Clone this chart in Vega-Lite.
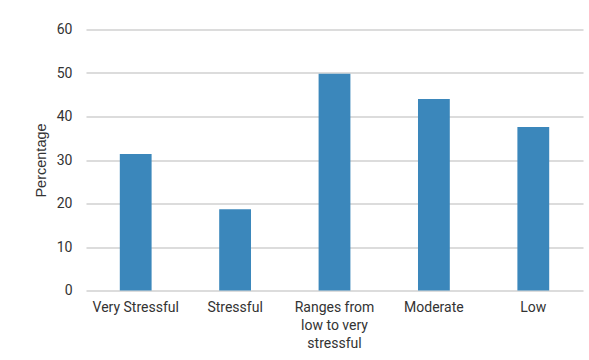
{
  "$schema": "https://vega.github.io/schema/vega-lite/v6.json",
  "autosize": {"type": "none"},
  "width": 497,
  "height": 261,
  "padding": {"left": 86, "top": 29.5, "right": 6, "bottom": 69.5},
  "background": "white",
  "config": {
    "view": {"stroke": null},
    "font": "Roboto",
    "axis": {"labelFont": "Roboto", "titleFont": "Liberation Sans", "labelColor": "#333333", "titleColor": "#333333"}
  },
  "data": {
    "values": [
      {"category": "Very Stressful", "value": 31.4},
      {"category": "Stressful", "value": 18.7},
      {"category": "Ranges from low to very stressful", "value": 49.8},
      {"category": "Moderate", "value": 44.0},
      {"category": "Low", "value": 37.6}
    ]
  },
  "mark": {"type": "bar", "color": "#3B87BB"},
  "encoding": {
    "x": {
      "field": "category",
      "type": "nominal",
      "sort": null,
      "scale": {"paddingInner": 0.68, "paddingOuter": 0.34},
      "axis": {
        "title": null,
        "labelAngle": 0,
        "domain": false,
        "ticks": false,
        "labelPadding": 10,
        "labelFontSize": 14,
        "labelLineHeight": 18,
        "labelLimit": 200,
        "labelExpr": "datum.value == 'Ranges from low to very stressful' ? ['Ranges from', 'low to very', 'stressful'] : datum.value"
      }
    },
    "y": {
      "field": "value",
      "type": "quantitative",
      "scale": {"domain": [0, 60], "nice": false},
      "axis": {
        "title": "Percentage",
        "titleFontSize": 14.5,
        "titleFontWeight": "normal",
        "titlePadding": 8,
        "values": [0, 10, 20, 30, 40, 50, 60],
        "domain": false,
        "ticks": false,
        "labelPadding": 14,
        "labelFontSize": 14,
        "gridColor": "#d0d0d0",
        "gridWidth": 1.3
      }
    }
  }
}
